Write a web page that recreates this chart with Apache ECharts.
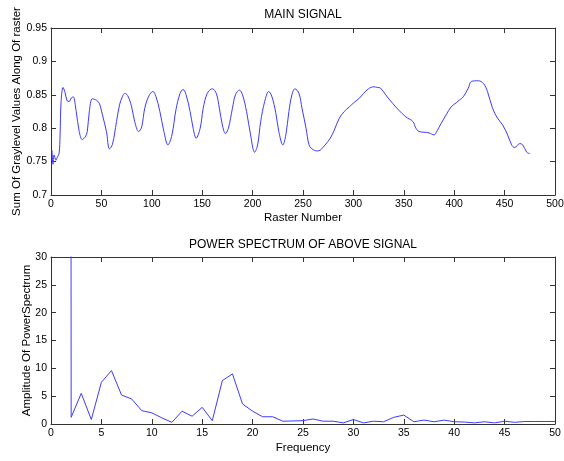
<!DOCTYPE html>
<html>
<head>
<meta charset="utf-8">
<script src="https://cdn.jsdelivr.net/npm/echarts@6/dist/echarts.min.js"></script>
<style>
  html, body { margin: 0; padding: 0; background: #fff; }
  #chart { width: 564px; height: 461px; }
</style>
</head>
<body>
<div id="chart"></div>
<script>
// main signal: raster number and sum of graylevel values
const rasterNumber = [
  1, 2, 3, 5, 6, 8, 9, 10, 12, 14, 16, 18, 20, 22, 25, 28, 31, 34, 36, 38,
  41, 45, 48, 51, 55, 58, 61, 65, 68, 71, 73, 76, 80, 83, 87, 90, 93, 97, 101, 104,
  108, 112, 116, 120, 124, 128, 131, 134, 138, 141, 144, 148, 151, 155, 160, 164, 167, 170, 173, 176,
  180, 183, 187, 190, 194, 198, 202, 205, 208, 212, 216, 219, 223, 226, 230, 233, 236, 239, 242, 246,
  249, 253, 256, 259, 264, 267, 272, 277, 281, 286, 291, 296, 301, 306, 310, 315, 320, 324, 327, 332,
  339, 345, 352, 359, 362, 365, 370, 375, 380, 383, 387, 392, 397, 402, 405, 409, 414, 417, 424, 429,
  433, 438, 443, 448, 453, 457, 460, 465, 468, 472, 475
];
const graylevelSum = [
  0.767, 0.746, 0.760, 0.752, 0.756, 0.762, 0.790, 0.840, 0.861, 0.853, 0.841, 0.840, 0.845, 0.847, 0.825, 0.795, 0.783, 0.787, 0.795, 0.825,
  0.844, 0.842, 0.837, 0.820, 0.795, 0.769, 0.776, 0.810, 0.835, 0.848, 0.852, 0.849, 0.832, 0.810, 0.795, 0.802, 0.830, 0.848, 0.855, 0.848,
  0.825, 0.795, 0.775, 0.790, 0.828, 0.852, 0.858, 0.850, 0.825, 0.800, 0.785, 0.800, 0.830, 0.852, 0.859, 0.852, 0.830, 0.805, 0.792, 0.800,
  0.830, 0.850, 0.857, 0.850, 0.825, 0.790, 0.764, 0.775, 0.810, 0.840, 0.855, 0.848, 0.823, 0.795, 0.775, 0.790, 0.825, 0.850, 0.859, 0.852,
  0.830, 0.800, 0.775, 0.769, 0.766, 0.767, 0.775, 0.785, 0.797, 0.815, 0.825, 0.832, 0.839, 0.845, 0.852, 0.859, 0.862, 0.861, 0.860, 0.850,
  0.837, 0.827, 0.817, 0.810, 0.800, 0.795, 0.794, 0.793, 0.790, 0.796, 0.807, 0.820, 0.832, 0.838, 0.842, 0.847, 0.860, 0.870, 0.871, 0.867,
  0.855, 0.830, 0.815, 0.805, 0.790, 0.775, 0.771, 0.777, 0.775, 0.764, 0.762
];

// power spectrum (first value is far off the top of the axis)
const frequency = [
  1, 2, 3, 4, 5, 6, 7, 8, 9, 10, 11, 12, 13, 14, 15, 16, 17, 18, 19, 20,
  21, 22, 23, 24, 25, 26, 27, 28, 29, 30, 31, 32, 33, 34, 35, 36, 37, 38, 39, 40,
  41, 42, 43, 44, 45, 46, 47, 48, 49, 50
];
const amplitude = [
  3000, 1.2, 5.5, 0.8, 7.5, 9.6, 5.2, 4.5, 2.4, 2.0, 1.1, 0.3, 2.3, 1.4, 3.0, 0.6, 7.8, 9.0, 3.6, 2.3,
  1.3, 1.3, 0.5, 0.55, 0.6, 0.9, 0.5, 0.5, 0.2, 0.8, 0.2, 0.5, 0.4, 1.2, 1.6, 0.4, 0.7, 0.4, 0.7, 0.4,
  0.35, 0.2, 0.4, 0.2, 0.5, 0.3, 0.45, 0.45, 0.45, 0.45
];

const FONT = 'Liberation Sans';
const AXIS_COLOR = '#333';

function pairs(xs, ys) {
  return xs.map((x, i) => [x, ys[i]]);
}

// 主坐标轴（带刻度标签）
function mainAxis(gridIndex, position, min, max, interval, extra) {
  return Object.assign({
    type: 'value',
    gridIndex,
    position,
    min,
    max,
    interval,
    axisLine: { show: true, onZero: false, lineStyle: { color: AXIS_COLOR, width: 1 } },
    axisTick: { show: true, inside: true, length: 5, lineStyle: { color: AXIS_COLOR } },
    axisLabel: {
      show: true,
      margin: 4,
      color: '#000',
      fontFamily: FONT,
      fontSize: 10.5,
      formatter: (v) => String(parseFloat(v.toFixed(2))),
      showMinLabel: true,
      showMaxLabel: true
    },
    splitLine: { show: false },
    nameTextStyle: { color: '#000', fontFamily: FONT, fontSize: 11.5 },
    nameLocation: 'middle',
    nameMoveOverlap: false
  }, extra || {});
}

// 对面的轴：只画刻度
function boxAxis(gridIndex, position, min, max, interval) {
  return {
    type: 'value',
    gridIndex,
    position,
    min,
    max,
    interval,
    axisLine: { show: true, onZero: false, lineStyle: { color: AXIS_COLOR, width: 1 } },
    axisTick: { show: true, inside: true, length: 5, lineStyle: { color: AXIS_COLOR } },
    axisLabel: { show: false },
    splitLine: { show: false }
  };
}

const chart = echarts.init(document.getElementById('chart'));

chart.setOption({
  backgroundColor: '#fff',
  animation: false,
  title: [
    {
      text: 'MAIN SIGNAL',
      left: 303,
      top: 9,
      textAlign: 'center',
      padding: 0,
      textStyle: { fontFamily: FONT, fontSize: 12, fontWeight: 'normal', color: '#000' }
    },
    {
      text: 'POWER SPECTRUM OF ABOVE SIGNAL',
      left: 303,
      top: 239,
      textAlign: 'center',
      padding: 0,
      textStyle: { fontFamily: FONT, fontSize: 12, fontWeight: 'normal', color: '#000' }
    }
  ],
  grid: [
    { left: 51, right: 9, top: 28, height: 167, containLabel: false, outerBoundsMode: 'none' },
    { left: 51, right: 9, top: 257, height: 167, containLabel: false, outerBoundsMode: 'none' }
  ],
  xAxis: [
    mainAxis(0, 'bottom', 0, 500, 50, { name: 'Raster Number', nameGap: 17 }),
    boxAxis(0, 'top', 0, 500, 50),
    mainAxis(1, 'bottom', 0, 50, 5, { name: 'Frequency', nameGap: 18 }),
    boxAxis(1, 'top', 0, 50, 5)
  ],
  yAxis: [
    mainAxis(0, 'left', 0.7, 0.95, 0.05, { name: 'Sum Of Graylevel Values Along Of raster', nameGap: 28 }),
    boxAxis(0, 'right', 0.7, 0.95, 0.05),
    mainAxis(1, 'left', 0, 30, 5, { name: 'Amplitude Of PowerSpectrum', nameGap: 18 }),
    boxAxis(1, 'right', 0, 30, 5)
  ],
  series: [
    {
      type: 'line',
      xAxisIndex: 0,
      yAxisIndex: 0,
      data: pairs(rasterNumber, graylevelSum),
      showSymbol: false,
      smooth: 0.35,
      lineStyle: { color: '#3b3bff', width: 1 },
      clip: true
    },
    {
      type: 'line',
      xAxisIndex: 2,
      yAxisIndex: 2,
      data: pairs(frequency, amplitude),
      showSymbol: false,
      lineStyle: { color: '#3b3bff', width: 1 },
      clip: true
    }
  ]
});
</script>
</body>
</html>
